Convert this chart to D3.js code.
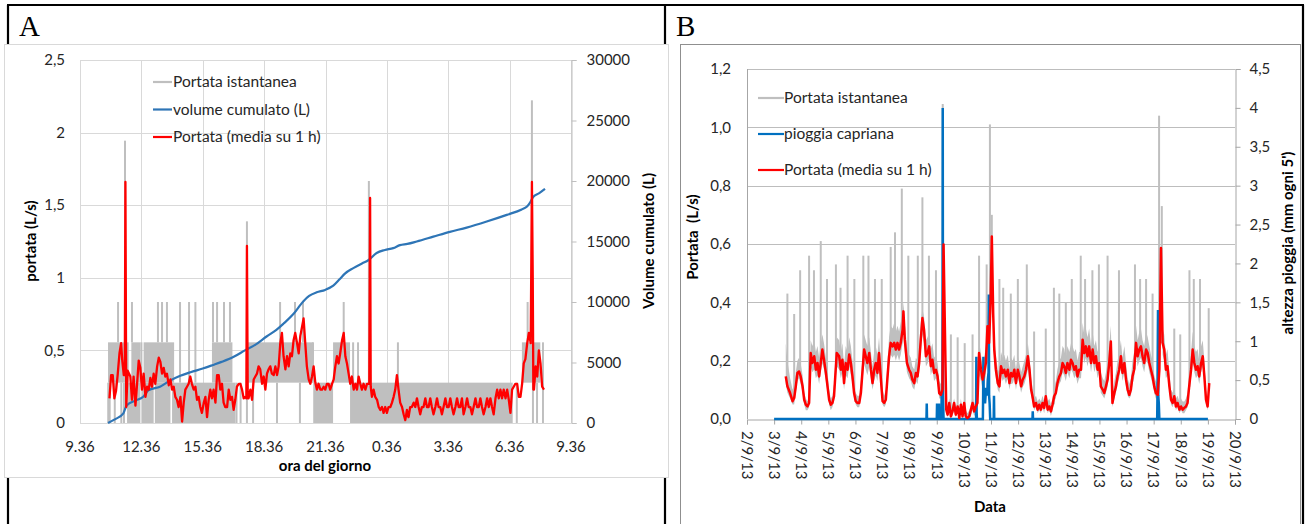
<!DOCTYPE html>
<html><head><meta charset="utf-8">
<script src="https://cdn.jsdelivr.net/npm/d3@7"></script>
<style>
body{margin:0;background:#fff;}
svg{display:block;font-family:Lato,"Open Sans",sans-serif;}
</style></head><body>
<svg id="fig" width="1309" height="524"></svg>
<script>
// ---------- Panel A: one day of flow (hours of clock, >24 = next day) ----------
const oreTickA = [9.6, 12.6, 15.6, 18.6, 21.6, 24.6, 27.6, 30.6, 33.6];
const oreLabelA = ["9.36","12.36","15.36","18.36","21.36","0.36","3.36","6.36","9.36"];
const portataTickA = [0, 0.5, 1, 1.5, 2, 2.5];
const portataLabelA = ["0","0,5","1","1,5","2","2,5"];
const volumeTickA = [0, 5000, 10000, 15000, 20000, 25000, 30000];

// instantaneous flow: filled bands [start h, end h, low, high]
const istBandeA = [
  [10.97,11.98,0.2778,0.5556],[12.11,12.55,0.2778,0.5556],[12.71,14.20,0.2778,0.5556],
  [16.05,17.05,0.2778,0.5556],[17.80,21.00,0.2778,0.5556],
  [21.97,22.80,0.2778,0.5556],[31.20,32.10,0.2778,0.5556],
  [11.90,12.55,0,0.2778],[12.63,13.20,0,0.2778],[13.26,14.02,0,0.2778],[14.10,17.20,0,0.2778],
  [21.00,21.97,0,0.2778],[22.80,30.75,0,0.2778]
];
// instantaneous flow: isolated pulses [h, from, to]
const istPicchiA = [
  [10.98,0,0.2778],[11.05,0,0.2778],[11.30,0,0.2778],[11.62,0,0.2778],[11.75,0,0.2778],
  [11.46,0.5556,0.8333],[11.80,0.5556,1.9444],[11.85,0.5556,0.8333],[12.14,0.5556,0.8333],
  [12.60,0.2778,0.5556],[13.41,0.5556,0.8333],[13.61,0.5556,0.8333],[13.85,0.5556,0.8333],[14.49,0.2778,0.8333],
  [14.93,0.2778,0.8333],[15.24,0.2778,0.8333],[16.10,0.5556,0.8333],[16.30,0.5556,0.8333],
  [16.64,0.5556,0.8333],[16.93,0.5556,0.8333],[17.25,0,0.2778],[17.45,0,0.2778],
  [17.76,0,1.3889],[18.06,0,0.2778],[19.23,0,0.2778],[19.38,0.5556,0.8333],
  [20.11,0.5556,0.8333],[20.35,0,0.2778],[20.50,0.5556,0.8333],[20.99,0.2778,0.5556],
  [22.49,0.5556,0.8333],[22.95,0.2778,0.5556],[23.19,0.2778,0.5556],[23.72,0,1.6667],
  [25.14,0.2778,0.5556],[30.95,0,0.2778],[31.48,0.5556,0.8333],[31.69,0.5556,2.2222],
  [31.74,0,0.2778],[31.94,0,0.2778],[32.23,0,0.5556]
];
// cumulative volume [h, litres]
const volumeA = [
  [10.97,0],[11.30,300],[11.72,800],[11.88,1450],[12.30,1850],[12.69,2170],[12.94,2700],
  [13.51,3000],[14.00,3500],[14.50,3900],[15.00,4200],[15.60,4500],[16.11,4800],[16.52,5050],
  [17.09,5450],[17.66,6000],[18.20,6500],[18.72,7150],[19.20,7700],[19.54,8200],[20.03,9000],
  [20.51,10050],[20.80,10500],[21.17,10800],[21.58,11000],[21.98,11350],[22.30,11900],
  [22.55,12350],[22.96,12800],[23.40,13200],[23.69,13450],[24.10,14050],[24.50,14300],
  [24.91,14450],[25.24,14700],[25.60,14800],[26.06,15000],[26.87,15400],[27.68,15800],
  [28.50,16150],[29.48,16650],[30.46,17200],[31.19,17650],[31.45,17900],[31.59,18200],
  [31.76,18700],[32.05,19000],[32.33,19350]
];
// hourly mean flow [h, L/s]
const mediaA = [
  [11.04,.17],[11.12,.33],[11.20,.33],[11.28,.17],[11.36,.22],[11.44,.33],[11.53,.48],[11.61,.55],
  [11.66,.44],[11.74,.33],[11.79,.33],[11.82,1.66],[11.86,.11],[11.93,.36],[12.06,.32],[12.14,.16],
  [12.22,.32],[12.31,.12],[12.39,.27],[12.47,.43],[12.55,.38],[12.63,.23],[12.71,.34],[12.80,.18],
  [12.88,.25],[12.96,.23],[13.04,.31],[13.12,.25],[13.20,.34],[13.28,.27],[13.37,.39],[13.45,.45],
  [13.53,.42],[13.61,.34],[13.69,.38],[13.77,.32],[13.85,.34],[13.94,.26],[14.02,.30],[14.10,.23],
  [14.18,.25],[14.26,.18],[14.34,.16],[14.42,.11],[14.51,.18],[14.59,.01],[14.67,.14],[14.75,.23],
  [14.83,.25],[14.91,.27],[14.99,.32],[15.07,.27],[15.16,.23],[15.24,.25],[15.32,.16],[15.40,.18],
  [15.48,.11],[15.56,.07],[15.65,.14],[15.73,.18],[15.81,.04],[15.89,.16],[15.97,.23],[16.05,.17],
  [16.13,.23],[16.22,.14],[16.30,.33],[16.38,.33],[16.46,.23],[16.54,.27],[16.62,.14],[16.70,.11],
  [16.79,.11],[16.87,.23],[16.95,.16],[17.03,.18],[17.11,.09],[17.19,.16],[17.27,.25],[17.36,.27],
  [17.44,.27],[17.52,.23],[17.60,.17],[17.68,.18],[17.73,.17],[17.76,1.22],[17.80,.17],[17.84,.17],
  [17.93,.23],[18.01,.16],[18.09,.30],[18.17,.32],[18.25,.34],[18.33,.39],[18.41,.37],[18.50,.27],
  [18.58,.32],[18.66,.23],[18.74,.34],[18.82,.37],[18.90,.39],[18.98,.34],[19.07,.33],[19.15,.39],
  [19.23,.33],[19.31,.39],[19.39,.55],[19.47,.62],[19.55,.46],[19.64,.37],[19.72,.46],[19.80,.39],
  [19.88,.48],[19.96,.46],[20.04,.57],[20.12,.62],[20.21,.55],[20.29,.48],[20.37,.60],[20.45,.66],
  [20.53,.72],[20.61,.55],[20.69,.39],[20.78,.30],[20.86,.27],[20.94,.32],[21.02,.39],[21.10,.28],
  [21.18,.23],[21.26,.27],[21.35,.23],[21.43,.23],[21.51,.25],[21.59,.23],[21.67,.27],[21.75,.27],
  [21.83,.23],[21.92,.27],[22.00,.30],[22.08,.39],[22.16,.46],[22.24,.41],[22.32,.48],[22.41,.57],
  [22.49,.62],[22.57,.46],[22.65,.41],[22.73,.34],[22.81,.27],[22.89,.32],[22.98,.23],[23.06,.27],
  [23.14,.23],[23.22,.32],[23.30,.27],[23.38,.23],[23.46,.27],[23.55,.23],[23.63,.27],[23.74,.27],
  [23.78,1.55],[23.81,.25],[23.87,.18],[23.95,.23],[24.03,.18],[24.12,.16],[24.20,.11],[24.28,.09],
  [24.36,.11],[24.44,.07],[24.52,.11],[24.60,.07],[24.68,.11],[24.77,.11],[24.85,.14],[24.93,.18],
  [25.01,.23],[25.09,.33],[25.17,.23],[25.25,.14],[25.34,.11],[25.42,.06],[25.50,.02],[25.58,.09],
  [25.66,.04],[25.74,.11],[25.82,.11],[25.91,.14],[25.99,.11],[26.07,.17],[26.15,.11],[26.23,.06],
  [26.31,.11],[26.39,.11],[26.48,.17],[26.56,.11],[26.64,.11],[26.72,.17],[26.80,.11],[26.88,.06],
  [26.97,.11],[27.05,.17],[27.13,.11],[27.21,.11],[27.29,.06],[27.37,.11],[27.46,.17],[27.54,.11],
  [27.62,.11],[27.70,.17],[27.78,.11],[27.86,.06],[27.95,.11],[28.03,.17],[28.11,.11],[28.19,.11],
  [28.27,.17],[28.35,.06],[28.44,.11],[28.52,.17],[28.60,.11],[28.68,.11],[28.76,.06],[28.84,.11],
  [28.93,.17],[29.01,.11],[29.09,.11],[29.17,.17],[29.25,.11],[29.33,.06],[29.42,.11],[29.50,.17],
  [29.58,.11],[29.66,.17],[29.74,.11],[29.82,.06],[29.91,.17],[29.99,.23],[30.07,.17],[30.15,.23],
  [30.23,.17],[30.31,.23],[30.40,.17],[30.48,.23],[30.56,.16],[30.64,.07],[30.72,.23],[30.80,.25],
  [30.88,.27],[30.97,.27],[31.05,.18],[31.13,.18],[31.21,.27],[31.29,.41],[31.37,.44],[31.46,.55],
  [31.54,.62],[31.63,.55],[31.69,1.66],[31.73,1.00],[31.76,.23],[31.79,.23],[31.87,.39],[31.95,.32],
  [32.03,.50],[32.11,.41],[32.19,.25],[32.28,.23]
];

// ---------- Panel B: 2–20 September 2013 (days from 2/9 00:00) ----------
const dateLabelB = ["2/9/13","3/9/13","4/9/13","5/9/13","6/9/13","7/9/13","8/9/13","9/9/13","10/9/13",
  "11/9/13","12/9/13","13/9/13","14/9/13","15/9/13","16/9/13","17/9/13","18/9/13","19/9/13","20/9/13"];
const portataTickB = [0, 0.2, 0.4, 0.6, 0.8, 1.0, 1.2];
const portataLabelB = ["0,0","0,2","0,4","0,6","0,8","1,0","1,2"];
const pioggiaTickB = [0, 0.5, 1, 1.5, 2, 2.5, 3, 3.5, 4, 4.5];
const pioggiaLabelB = ["0","0,5","1","1,5","2","2,5","3","3,5","4","4,5"];

// hourly mean flow [day, L/s]
const mediaB = [
  [1.43,.146],[1.49,.112],[1.59,.089],[1.68,.061],[1.74,.072],[1.80,.112],[1.86,.158],[1.92,.163],
  [1.98,.146],[2.05,.112],[2.11,.066],[2.17,.049],[2.23,.043],[2.29,.055],[2.35,.226],[2.41,.192],
  [2.48,.215],[2.54,.169],[2.60,.192],[2.66,.146],[2.72,.192],[2.78,.238],[2.84,.203],[2.91,.158],
  [2.97,.112],[3.03,.066],[3.09,.049],[3.15,.055],[3.21,.078],[3.31,.226],[3.40,.215],[3.46,.169],
  [3.52,.203],[3.58,.123],[3.64,.192],[3.71,.169],[3.77,.221],[3.83,.192],[3.89,.146],[3.95,.089],
  [4.01,.061],[4.07,.055],[4.14,.055],[4.20,.089],[4.32,.238],[4.38,.215],[4.44,.192],[4.51,.226],
  [4.57,.169],[4.63,.123],[4.69,.169],[4.75,.192],[4.81,.158],[4.87,.226],[4.94,.135],[5.00,.061],
  [5.06,.055],[5.12,.066],[5.24,.215],[5.30,.261],[5.37,.249],[5.43,.261],[5.49,.238],[5.55,.261],
  [5.61,.238],[5.67,.261],[5.74,.306],[5.77,.369],[5.82,.272],[5.90,.192],[5.98,.169],[6.04,.158],
  [6.10,.135],[6.17,.123],[6.23,.158],[6.29,.146],[6.35,.192],[6.41,.272],[6.47,.346],[6.53,.306],
  [6.60,.215],[6.66,.226],[6.72,.249],[6.78,.181],[6.84,.203],[6.90,.158],[6.97,.169],[7.03,.146],
  [7.09,.089],[7.15,.083],[7.21,.101],[7.25,.598],[7.30,.306],[7.35,.032],[7.40,.015],[7.46,.055],
  [7.52,.009],[7.58,.026],[7.64,.055],[7.70,.015],[7.77,.043],[7.83,.003],[7.89,.049],[7.95,.009],
  [8.01,.055],[8.07,.009],[8.13,.003],[8.20,.009],[8.26,.032],[8.32,.055],[8.38,.026],[8.44,.043],
  [8.50,.055],[8.56,.226],[8.63,.169],[8.69,.135],[8.75,.158],[8.81,.192],[8.87,.318],[8.93,.261],
  [8.99,.421],[9.03,.626],[9.08,.363],[9.12,.238],[9.18,.169],[9.25,.123],[9.31,.112],[9.37,.181],
  [9.43,.158],[9.49,.169],[9.55,.146],[9.62,.169],[9.68,.123],[9.74,.158],[9.80,.146],[9.86,.169],
  [9.92,.123],[9.99,.169],[10.05,.146],[10.11,.112],[10.17,.135],[10.23,.146],[10.29,.169],[10.36,.215],
  [10.42,.169],[10.48,.101],[10.53,.078],[10.59,.043],[10.66,.055],[10.72,.032],[10.78,.049],[10.84,.032],
  [10.90,.055],[10.96,.038],[11.02,.078],[11.09,.032],[11.15,.043],[11.21,.026],[11.27,.049],[11.33,.078],
  [11.39,.089],[11.45,.123],[11.52,.146],[11.58,.158],[11.64,.192],[11.70,.181],[11.76,.158],[11.82,.192],
  [11.89,.169],[11.95,.203],[12.01,.192],[12.07,.169],[12.13,.181],[12.19,.146],[12.25,.169],[12.32,.169],
  [12.38,.272],[12.44,.226],[12.50,.249],[12.56,.215],[12.62,.249],[12.69,.192],[12.75,.238],[12.81,.192],
  [12.87,.215],[12.93,.169],[12.99,.192],[13.05,.112],[13.12,.101],[13.18,.089],[13.24,.112],[13.30,.135],
  [13.36,.192],[13.42,.266],[13.48,.055],[13.55,.089],[13.61,.112],[13.67,.146],[13.73,.169],[13.79,.215],
  [13.85,.158],[13.92,.192],[13.98,.135],[14.04,.101],[14.10,.083],[14.16,.101],[14.22,.146],[14.28,.169],
  [14.35,.261],[14.41,.215],[14.47,.238],[14.53,.249],[14.59,.215],[14.65,.192],[14.72,.238],[14.78,.226],
  [14.84,.192],[14.90,.169],[14.96,.146],[15.02,.112],[15.08,.089],[15.15,.083],[15.21,.169],[15.27,.586],
  [15.33,.261],[15.39,.238],[15.45,.169],[15.51,.181],[15.58,.112],[15.64,.066],[15.70,.055],[15.76,.078],
  [15.82,.043],[15.88,.055],[15.95,.032],[16.01,.043],[16.07,.032],[16.13,.038],[16.19,.043],[16.25,.055],
  [16.31,.112],[16.38,.169],[16.44,.238],[16.50,.192],[16.56,.169],[16.62,.181],[16.68,.146],[16.75,.192],
  [16.81,.215],[16.87,.146],[16.93,.066],[16.99,.043],[17.05,.123]
];
// instantaneous flow envelope [day, min, max]
const istFasciaB = [
  [1.43,.12,.26],[1.49,.09,.20],[1.59,.07,.14],[1.68,.05,.10],[1.74,.05,.12],[1.80,.09,.16],[1.86,.13,.20],[1.92,.14,.21],
  [1.98,.12,.19],[2.05,.09,.15],[2.11,.05,.09],[2.17,.03,.07],[2.23,.03,.06],[2.29,.04,.08],[2.35,.18,.27],[2.41,.16,.25],
  [2.48,.17,.27],[2.54,.14,.23],[2.60,.15,.25],[2.66,.12,.21],[2.72,.16,.26],[2.78,.19,.29],[2.84,.17,.26],[2.91,.13,.21],
  [2.97,.09,.16],[3.03,.05,.10],[3.09,.03,.07],[3.15,.04,.08],[3.21,.06,.12],[3.31,.18,.28],[3.40,.17,.27],[3.46,.14,.23],
  [3.52,.16,.26],[3.58,.10,.18],[3.64,.15,.25],[3.71,.14,.23],[3.77,.18,.28],[3.83,.15,.25],[3.89,.12,.20],[3.95,.07,.13],
  [4.01,.05,.09],[4.07,.04,.08],[4.14,.04,.08],[4.20,.07,.13],[4.32,.19,.29],[4.38,.17,.27],[4.44,.15,.25],[4.51,.18,.28],
  [4.57,.14,.23],[4.63,.10,.18],[4.69,.13,.23],[4.75,.15,.25],[4.81,.13,.22],[4.87,.18,.28],[4.94,.11,.19],[5.00,.05,.10],
  [5.06,.04,.08],[5.12,.05,.10],[5.24,.18,.28],[5.30,.22,.32],[5.37,.21,.31],[5.43,.22,.33],[5.49,.20,.30],[5.55,.22,.32],
  [5.61,.20,.30],[5.67,.22,.33],[5.74,.26,.36],[5.77,.30,.40],[5.82,.23,.33],[5.90,.16,.25],[5.98,.14,.22],[6.04,.13,.21],
  [6.10,.11,.18],[6.17,.10,.17],[6.23,.13,.21],[6.29,.12,.20],[6.35,.16,.25],[6.41,.23,.33],[6.47,.29,.38],[6.53,.26,.35],
  [6.60,.18,.27],[6.66,.19,.28],[6.72,.21,.30],[6.78,.15,.24],[6.84,.17,.26],[6.90,.13,.21],[6.97,.14,.22],[7.03,.12,.19],
  [7.09,.07,.13],[7.15,.07,.12],[7.21,.08,.14],[7.25,.50,.62],[7.30,.20,.35],[7.35,.02,.06],[7.40,.005,.04],[7.46,.03,.07],
  [7.52,.003,.03],[7.58,.01,.05],[7.64,.03,.07],[7.70,.005,.04],[7.77,.02,.06],[7.83,0,.03],[7.89,.03,.07],[7.95,.003,.03],
  [8.01,.03,.07],[8.07,.003,.03],[8.13,0,.02],[8.20,.003,.03],[8.26,.01,.05],[8.32,.03,.08],[8.38,.01,.05],[8.44,.02,.07],
  [8.50,.03,.09],[8.56,.15,.27],[8.63,.13,.22],[8.69,.10,.18],[8.75,.12,.21],[8.81,.15,.25],[8.87,.26,.37],[8.93,.21,.31],
  [8.99,.34,.47],[9.03,.55,.65],[9.08,.30,.40],[9.12,.19,.28],[9.18,.14,.22],[9.25,.10,.17],[9.31,.09,.16],[9.37,.15,.23],
  [9.43,.13,.21],[9.49,.14,.22],[9.55,.12,.20],[9.62,.14,.22],[9.68,.10,.17],[9.74,.13,.21],[9.80,.12,.20],[9.86,.14,.22],
  [9.92,.10,.17],[9.99,.14,.22],[10.05,.12,.19],[10.11,.09,.16],[10.17,.11,.18],[10.23,.12,.20],[10.29,.14,.22],[10.36,.17,.26],
  [10.42,.13,.21],[10.48,.08,.14],[10.53,.06,.11],[10.59,.03,.07],[10.66,.04,.08],[10.72,.02,.06],[10.78,.03,.07],[10.84,.02,.06],
  [10.90,.04,.08],[10.96,.02,.06],[11.02,.05,.10],[11.09,.02,.06],[11.15,.03,.07],[11.21,.01,.05],[11.27,.03,.07],[11.33,.06,.11],
  [11.39,.07,.13],[11.45,.10,.17],[11.52,.12,.20],[11.58,.13,.21],[11.64,.16,.25],[11.70,.15,.24],[11.76,.13,.21],[11.82,.16,.25],
  [11.89,.14,.23],[11.95,.17,.26],[12.01,.16,.25],[12.07,.14,.23],[12.13,.15,.24],[12.19,.12,.20],[12.25,.14,.23],[12.32,.14,.23],
  [12.38,.23,.33],[12.44,.19,.29],[12.50,.21,.31],[12.56,.18,.28],[12.62,.21,.31],[12.69,.16,.25],[12.75,.20,.30],[12.81,.16,.25],
  [12.87,.18,.27],[12.93,.14,.23],[12.99,.16,.25],[13.05,.09,.16],[13.12,.08,.14],[13.18,.07,.13],[13.24,.09,.16],[13.30,.11,.19],
  [13.36,.16,.25],[13.42,.22,.32],[13.48,.04,.09],[13.55,.07,.13],[13.61,.09,.16],[13.67,.12,.20],[13.73,.14,.23],[13.79,.18,.27],
  [13.85,.13,.21],[13.92,.16,.25],[13.98,.11,.19],[14.04,.08,.14],[14.10,.07,.12],[14.16,.08,.14],[14.22,.12,.20],[14.28,.14,.23],
  [14.35,.22,.32],[14.41,.18,.27],[14.47,.20,.30],[14.53,.21,.31],[14.59,.18,.27],[14.65,.16,.25],[14.72,.20,.30],[14.78,.19,.28],
  [14.84,.16,.25],[14.90,.14,.22],[14.96,.12,.20],[15.02,.09,.15],[15.08,.07,.13],[15.15,.07,.12],[15.21,.13,.22],[15.27,.50,.62],
  [15.33,.22,.31],[15.39,.20,.29],[15.45,.14,.22],[15.51,.15,.24],[15.58,.09,.16],[15.64,.05,.10],[15.70,.04,.09],[15.76,.06,.11],
  [15.82,.03,.07],[15.88,.04,.08],[15.95,.02,.06],[16.01,.03,.07],[16.07,.02,.06],[16.13,.02,.06],[16.19,.03,.07],[16.25,.04,.09],
  [16.31,.09,.16],[16.38,.14,.23],[16.44,.20,.30],[16.50,.16,.25],[16.56,.14,.23],[16.62,.15,.24],[16.68,.12,.20],[16.75,.16,.25],
  [16.81,.18,.27],[16.87,.12,.20],[16.93,.05,.10],[16.99,.03,.07],[17.05,.10,.16]
];
// instantaneous flow peaks [day, from, to]
const istPicchiB = [
  [1.49,.11,.43],[1.74,.07,.36],[1.96,.15,.51],[2.29,.06,.56],[2.47,.21,.51],[2.72,.19,.61],[2.95,.13,.48],
  [3.28,.20,.53],[3.45,.18,.45],[3.71,.17,.56],[3.96,.10,.48],[4.29,.20,.56],[4.48,.20,.56],[4.72,.18,.48],
  [4.97,.10,.48],[5.30,.26,.59],[5.46,.26,.64],[5.71,.26,.79],[5.95,.17,.56],[6.30,.15,.56],[6.47,.35,.76],
  [6.71,.25,.56],[6.97,.17,.51],[7.22,.10,1.08],[7.52,.01,.29],[7.77,.04,.28],[8.03,.01,.26],[8.32,.05,.29],
  [8.56,.22,.56],[8.84,.19,.53],[8.96,.42,1.01],[9.03,.60,.70],[9.31,.11,.48],[9.45,.16,.45],[9.73,.12,.43],
  [9.99,.17,.48],[10.32,.17,.53],[10.59,.04,.30],[11.02,.08,.31],[11.32,.05,.45],[11.52,.15,.43],[11.76,.16,.40],
  [11.98,.20,.48],[12.31,.17,.56],[12.47,.25,.48],[12.74,.24,.51],[12.98,.19,.53],[13.30,.14,.56],[13.72,.17,.51],
  [14.31,.17,.53],[14.50,.25,.48],[14.72,.24,.48],[14.96,.15,.43],[15.20,.17,1.04],[15.30,.26,.73],[15.76,.08,.31],
  [15.98,.04,.29],[16.32,.11,.51],[16.48,.20,.48],[16.71,.15,.48],[17.03,.12,.38]
];
// rainfall at Capriana [day, mm per 5 min]
const pioggiaB = [
  [1.00,0],[6.62,0],[6.63,0.2],[6.64,0],[7.00,0],[7.01,0.2],[7.02,0],[7.07,0],[7.08,0.2],[7.09,0],
  [7.17,0],[7.18,0.3],[7.19,0],[7.21,0],[7.22,4.0],[7.23,0.3],[7.25,0],[8.45,0],[8.46,0.8],[8.47,0.1],
  [8.48,0],[8.70,0],[8.71,0.3],[8.72,0.8],[8.73,0.3],[8.75,0.4],[8.78,0.2],[8.80,0.3],[8.83,0.4],
  [8.86,0.3],[8.88,0.5],[8.91,0.6],[8.92,1.6],[8.93,0.3],[8.95,0.2],[8.97,0],[9.10,0],[9.11,0.3],
  [9.12,0],[10.53,0],[10.54,0.1],[10.55,0],[15.13,0],[15.14,0.3],[15.16,1.4],[15.17,0.3],[15.19,0.2],
  [15.21,0],[17.00,0]
];

// ---------- drawing ----------
const svg = d3.select("#fig");
const GREY = "#bfbfbf", RED = "#ff0000", BLUE_A = "#2e75b6", BLUE_B = "#0070c0";
const TXT = "#262626";

// page frame
svg.append("rect").attr("width", 1309).attr("height", 524).attr("fill", "#fff");
const frame = svg.append("g").attr("stroke", "#000").attr("stroke-width", 2.2);
frame.append("line").attr("x1", 7).attr("x2", 1304).attr("y1", 5).attr("y2", 5);
frame.append("line").attr("x1", 8).attr("x2", 8).attr("y1", 5).attr("y2", 524);
frame.append("line").attr("x1", 665).attr("x2", 665).attr("y1", 5).attr("y2", 524);
frame.append("line").attr("x1", 1303).attr("x2", 1303).attr("y1", 5).attr("y2", 524);

svg.append("text").attr("x", 19).attr("y", 36).attr("font-family", "'Liberation Serif',serif")
  .attr("font-size", 29).attr("fill", "#000").text("A");
svg.append("text").attr("x", 676).attr("y", 36).attr("font-family", "'Liberation Serif',serif")
  .attr("font-size", 29).attr("fill", "#000").text("B");

// chart boxes
svg.append("rect").attr("x", 4.5).attr("y", 44.5).attr("width", 664).attr("height", 433)
  .attr("fill", "#fff").attr("stroke", "#d9d9d9");
svg.append("rect").attr("x", 680.5).attr("y", 44.5).attr("width", 620).attr("height", 490)
  .attr("fill", "#fff").attr("stroke", "#8f8f8f");

// ===== Panel A =====
const xA = d3.scaleLinear().domain([9.6, 33.6]).range([80, 571]);
const yA = d3.scaleLinear().domain([0, 2.5]).range([423, 60]);
const yVol = d3.scaleLinear().domain([0, 30000]).range([423, 60]);
const gA = svg.append("g");

gA.append("g").selectAll("line").data(portataTickA).join("line")
  .attr("x1", xA(9.6)).attr("x2", xA(33.6))
  .attr("y1", d => Math.round(yA(d)) + 0.5).attr("y2", d => Math.round(yA(d)) + 0.5)
  .attr("stroke", "#d9d9d9");
gA.append("g").selectAll("line").data(oreTickA).join("line")
  .attr("x1", d => Math.round(xA(d)) + 0.5).attr("x2", d => Math.round(xA(d)) + 0.5)
  .attr("y1", yA(0)).attr("y2", yA(2.5)).attr("stroke", "#d9d9d9");

// right axis (volume)
const axVol = gA.append("g").attr("transform", `translate(${Math.round(xA(33.6)) + 0.5},0)`)
  .call(d3.axisRight(yVol).tickValues(volumeTickA).tickSize(5).tickPadding(10).tickFormat(d3.format("d")));
axVol.select(".domain").attr("stroke", "#bfbfbf");
axVol.selectAll(".tick line").attr("stroke", "#bfbfbf");
axVol.selectAll("text").attr("font-family", "Lato").attr("font-size", 15).attr("fill", TXT);

// left tick labels
gA.append("g").selectAll("text").data(portataTickA).join("text")
  .attr("x", 65).attr("y", d => yA(d)).attr("dy", "0.35em").attr("text-anchor", "end")
  .attr("font-size", 15).attr("fill", TXT).text((d, i) => portataLabelA[i]);
// bottom tick labels
gA.append("g").selectAll("text").data(oreTickA).join("text")
  .attr("x", d => xA(d)).attr("y", 452).attr("text-anchor", "middle")
  .attr("font-size", 15).attr("fill", TXT).text((d, i) => oreLabelA[i]);

// instantaneous flow
gA.append("g").selectAll("rect").data(istBandeA).join("rect")
  .attr("x", d => xA(d[0])).attr("width", d => xA(d[1]) - xA(d[0]))
  .attr("y", d => yA(d[3])).attr("height", d => yA(d[2]) - yA(d[3])).attr("fill", GREY);
gA.append("g").selectAll("line").data(istPicchiA).join("line")
  .attr("x1", d => xA(d[0])).attr("x2", d => xA(d[0]))
  .attr("y1", d => yA(d[1])).attr("y2", d => yA(d[2]))
  .attr("stroke", GREY).attr("stroke-width", 2);

// cumulative volume
gA.append("path").datum(volumeA)
  .attr("d", d3.line().x(d => xA(d[0])).y(d => yVol(d[1])).curve(d3.curveMonotoneX))
  .attr("fill", "none").attr("stroke", BLUE_A).attr("stroke-width", 2.2);

// hourly mean
gA.append("path").datum(mediaA)
  .attr("d", d3.line().x(d => xA(d[0])).y(d => yA(d[1])))
  .attr("fill", "none").attr("stroke", RED).attr("stroke-width", 2.3).attr("stroke-linejoin", "round");

// titles A
svg.append("text").attr("transform", "translate(31,241) rotate(-90)").attr("text-anchor", "middle")
  .attr("dy", "0.35em").attr("font-weight", "bold").attr("font-size", 15).attr("fill", "#000").text("portata (L/s)");
svg.append("text").attr("transform", "translate(649,241) rotate(-90)").attr("text-anchor", "middle")
  .attr("dy", "0.35em").attr("font-weight", "bold").attr("font-size", 15).attr("fill", "#000").text("Volume cumulato (L)");
svg.append("text").attr("x", 325).attr("y", 471).attr("text-anchor", "middle")
  .attr("font-weight", "bold").attr("font-size", 15).attr("fill", "#000").text("ora del giorno");

// legend A
const legA = [["Portata istantanea", GREY], ["volume cumulato (L)", BLUE_A], ["Portata (media su 1 h)", RED]];
legA.forEach((d, i) => {
  const y = 82 + i * 27.5;
  svg.append("line").attr("x1", 153).attr("x2", 172).attr("y1", y).attr("y2", y)
    .attr("stroke", d[1]).attr("stroke-width", 2.2);
  svg.append("text").attr("x", 173).attr("y", y).attr("dy", "0.35em").attr("font-size", 15.5)
    .attr("fill", TXT).text(d[0]);
});

// ===== Panel B =====
const xB = d3.scaleLinear().domain([0, 18]).range([747, 1235]);
const yB = d3.scaleLinear().domain([0, 1.2]).range([419, 69]);
const yRain = d3.scaleLinear().domain([0, 4.5]).range([419, 69]);
const gB = svg.append("g");

gB.append("g").selectAll("line").data(portataTickB.slice(1)).join("line")
  .attr("x1", xB(0)).attr("x2", xB(18))
  .attr("y1", d => Math.round(yB(d)) + 0.5).attr("y2", d => Math.round(yB(d)) + 0.5)
  .attr("stroke", "#bdbdbd");
// left axis line
gB.append("line").attr("x1", Math.round(xB(0)) + 0.5).attr("x2", Math.round(xB(0)) + 0.5)
  .attr("y1", yB(0)).attr("y2", yB(1.2)).attr("stroke", "#a6a6a6");
// bottom axis with day ticks
const axDays = gB.append("g").attr("transform", `translate(0,${Math.round(yB(0)) + 0.5})`)
  .call(d3.axisBottom(xB).tickValues(d3.range(0, 19)).tickSize(5).tickFormat(""));
axDays.select(".domain").attr("stroke", "#a6a6a6");
axDays.selectAll(".tick line").attr("stroke", "#a6a6a6");
// right axis (rain)
const axRain = gB.append("g").attr("transform", `translate(${Math.round(xB(18)) + 0.5},0)`)
  .call(d3.axisRight(yRain).tickValues(pioggiaTickB).tickSize(5).tickPadding(9)
    .tickFormat((d, i) => pioggiaLabelB[i]));
axRain.select(".domain").attr("stroke", "#a6a6a6");
axRain.selectAll(".tick line").attr("stroke", "#a6a6a6");
axRain.selectAll("text").attr("font-family", "Lato").attr("font-size", 15).attr("fill", TXT);

gB.append("g").selectAll("text").data(portataTickB).join("text")
  .attr("x", 731).attr("y", d => yB(d)).attr("dy", "0.35em").attr("text-anchor", "end")
  .attr("font-size", 15).attr("fill", TXT).text((d, i) => portataLabelB[i]);
gB.append("g").selectAll("text").data(dateLabelB).join("text")
  .attr("transform", (d, i) => `translate(${xB(i)},431) rotate(90)`)
  .attr("dy", "0.35em").attr("text-anchor", "start")
  .attr("font-size", 15).attr("fill", TXT).text(d => d);

// instantaneous flow
gB.append("path").datum(istFasciaB)
  .attr("d", d3.area().x(d => xB(d[0])).y0(d => yB(d[1])).y1(d => yB(d[2])))
  .attr("fill", GREY);
gB.append("g").selectAll("line").data(istPicchiB).join("line")
  .attr("x1", d => xB(d[0])).attr("x2", d => xB(d[0]))
  .attr("y1", d => yB(d[1])).attr("y2", d => yB(d[2]))
  .attr("stroke", GREY).attr("stroke-width", 2);

// rainfall
gB.append("path").datum(pioggiaB)
  .attr("d", d3.line().x(d => xB(d[0])).y(d => yRain(d[1])))
  .attr("fill", "none").attr("stroke", BLUE_B).attr("stroke-width", 2.5);

// hourly mean
gB.append("path").datum(mediaB)
  .attr("d", d3.line().x(d => xB(d[0])).y(d => yB(d[1])))
  .attr("fill", "none").attr("stroke", RED).attr("stroke-width", 2.5).attr("stroke-linejoin", "round");

// titles B
svg.append("text").attr("transform", "translate(693,237) rotate(-90)").attr("text-anchor", "middle")
  .attr("dy", "0.35em").attr("font-weight", "bold").attr("font-size", 15).attr("fill", "#000")
  .style("white-space", "pre").text("Portata  (L/s)");
svg.append("text").attr("transform", "translate(1288,243) rotate(-90)").attr("text-anchor", "middle")
  .attr("dy", "0.35em").attr("font-weight", "bold").attr("font-size", 15).attr("fill", "#000")
  .text("altezza pioggia (mm ogni 5')");
svg.append("text").attr("x", 990).attr("y", 512).attr("text-anchor", "middle")
  .attr("font-weight", "bold").attr("font-size", 15).attr("fill", "#000").text("Data");

// legend B
const legB = [["Portata istantanea", GREY], ["pioggia capriana", BLUE_B], ["Portata (media su 1 h)", RED]];
legB.forEach((d, i) => {
  const y = 98 + i * 36;
  svg.append("line").attr("x1", 758).attr("x2", 784).attr("y1", y).attr("y2", y)
    .attr("stroke", d[1]).attr("stroke-width", 2.2);
  svg.append("text").attr("x", 784).attr("y", y).attr("dy", "0.35em").attr("font-size", 15.5)
    .attr("fill", TXT).text(d[0]);
});
</script>
</body></html>
